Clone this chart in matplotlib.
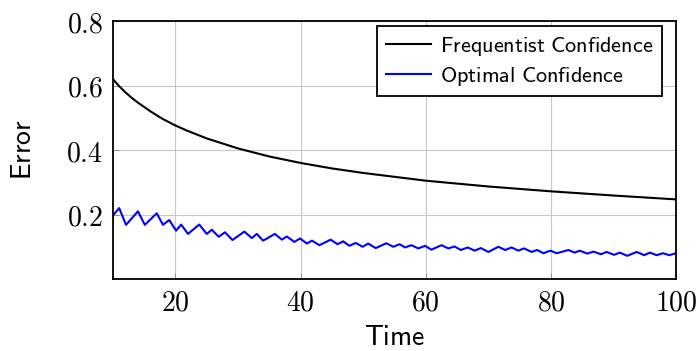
import matplotlib
matplotlib.use("Agg")
import matplotlib.pyplot as plt
from matplotlib.ticker import FuncFormatter

plt.rcParams['mathtext.fontset'] = 'cm'

# Frequentist confidence curve
freq_t = [10, 11, 12, 13, 14, 16, 18, 20, 22, 25, 30, 35, 40, 45, 50, 60, 70, 80, 90, 100]
freq_err = [0.620, 0.598, 0.579, 0.562, 0.547, 0.520, 0.496, 0.476, 0.459, 0.436, 0.405, 0.380, 0.360, 0.343, 0.329, 0.305, 0.287, 0.272, 0.259, 0.247]

# Optimal confidence curve
opt_t = [10.0, 11.0, 12.1, 14.0, 15.1, 17.0, 18.0, 19.0, 20.1, 20.9, 22.0, 23.8, 25.0, 25.8,
         26.9, 27.9, 29.1, 31.0, 32.2, 33.0, 34.0, 35.9, 37.0, 37.8, 39.0, 39.9, 41.0, 41.8,
         43.0, 44.8, 45.9, 46.8, 47.8, 48.8, 49.9, 50.8, 52.0, 53.7, 54.8, 55.8, 56.7, 57.7,
         58.8, 59.9, 60.9, 62.5, 63.6, 64.6, 65.6, 66.7, 67.8, 68.8, 70.0, 71.6, 72.7, 73.7,
         74.8, 75.7, 76.9, 77.8, 78.8, 79.9, 80.9, 82.8, 83.8, 84.6, 85.8, 86.8, 88.0, 88.9,
         90.1, 91.0, 92.2, 93.7, 94.9, 95.8, 96.9, 97.9, 98.9, 100.0]
opt_err = [0.197, 0.220, 0.168, 0.210, 0.168, 0.204, 0.168, 0.183, 0.150, 0.169, 0.140, 0.169, 0.140, 0.153,
           0.131, 0.145, 0.121, 0.147, 0.127, 0.140, 0.119, 0.140, 0.122, 0.132, 0.115, 0.126, 0.110, 0.119,
           0.105, 0.122, 0.108, 0.117, 0.103, 0.112, 0.100, 0.110, 0.096, 0.111, 0.100, 0.108, 0.098, 0.105,
           0.095, 0.103, 0.091, 0.105, 0.095, 0.101, 0.090, 0.098, 0.088, 0.096, 0.084, 0.100, 0.090, 0.098,
           0.088, 0.095, 0.084, 0.090, 0.080, 0.088, 0.080, 0.090, 0.082, 0.088, 0.079, 0.085, 0.077, 0.084,
           0.075, 0.082, 0.072, 0.084, 0.074, 0.082, 0.074, 0.080, 0.074, 0.080]

x_ticks = [20, 40, 60, 80, 100]
y_ticks = [0.2, 0.4, 0.6, 0.8]

fig = plt.figure(figsize=(6.97, 3.51), dpi=100)
ax = fig.add_axes([0.162, 0.205, 0.808, 0.735])

ax.plot(freq_t, freq_err, color='black', lw=1.5, label=r'$\mathsf{Frequentist\ Confidence}$')
ax.plot(opt_t, opt_err, color='#0000ff', lw=1.5, label=r'$\mathsf{Optimal\ Confidence}$')

ax.set_xlim(10, 100)
ax.set_ylim(0, 0.8)
ax.set_xticks(x_ticks)
ax.set_yticks(y_ticks)
ax.xaxis.set_major_formatter(FuncFormatter(lambda v, p: r'$%d$' % v))
ax.yaxis.set_major_formatter(FuncFormatter(lambda v, p: r'$%.1f$' % v))
ax.tick_params(direction='in', length=4, width=0.6, color='#888888', labelsize=20, pad=7)
ax.grid(True, color='#c8c8c8', lw=0.8)
for s in ax.spines.values():
    s.set_linewidth(1.3)

ax.set_xlabel(r'$\mathsf{Time}$', fontsize=20, labelpad=4.5)
ax.set_ylabel(r'$\mathsf{Error}$', fontsize=20, labelpad=21)

leg = ax.legend(loc='upper right', bbox_to_anchor=(0.975, 0.981), borderaxespad=0,
                fontsize=16, frameon=True, fancybox=False,
                handlelength=2.0, handletextpad=0.4, borderpad=0.4,
                labelspacing=0.3)
leg.get_frame().set_edgecolor('black')
leg.get_frame().set_linewidth(1.3)
leg.get_frame().set_alpha(1)

fig.savefig('out.png', dpi=100)
